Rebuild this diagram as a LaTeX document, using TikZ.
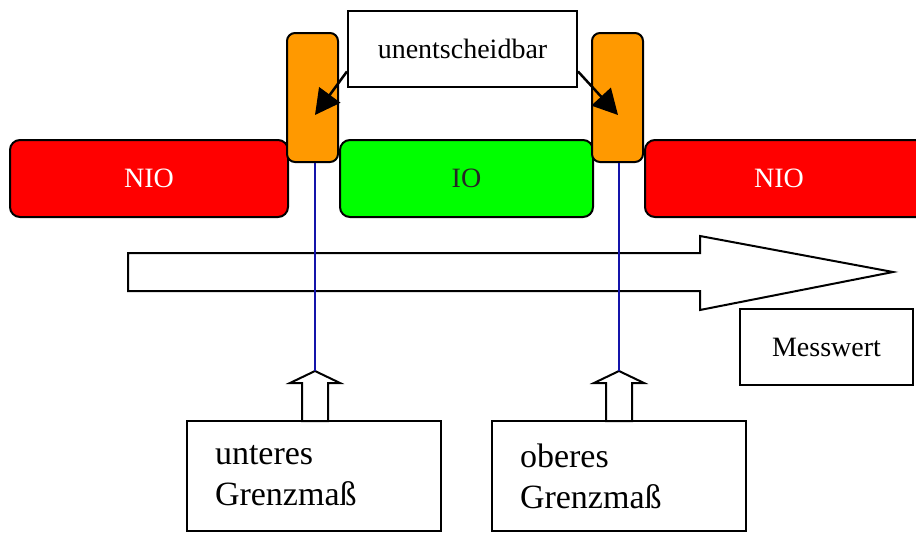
\documentclass[tikz,border=0pt]{standalone}
\usepackage{fontspec}
\setmainfont{Liberation Serif}
\usetikzlibrary{arrows.meta}
\definecolor{nred}{RGB}{255,0,0}
\definecolor{ngreen}{RGB}{0,255,0}
\definecolor{norange}{RGB}{255,153,0}
\definecolor{nblue}{RGB}{20,20,170}
\begin{document}
\begin{tikzpicture}[x=1pt,y=-1pt,
  bar/.style={draw=black,line width=2pt,rounded corners=10pt,minimum height=77pt,inner sep=0pt,font=\fontsize{28}{30}\selectfont},
  tol/.style={draw=black,line width=2pt,fill=norange,rounded corners=8pt,minimum width=51pt,minimum height=129pt,inner sep=0pt},
  plainbox/.style={draw=black,line width=2pt,fill=white,inner sep=0pt,font=\fontsize{28}{30}\selectfont},
  limbox/.style={draw=black,line width=2pt,fill=white,minimum width=254pt,minimum height=110pt,text width=198pt,inner xsep=28pt,inner ysep=0pt,align=left,font=\fontsize{34}{41}\selectfont},
  hollow/.style={draw=black,line width=2pt,fill=white,line join=miter},
  blueline/.style={draw=nblue,line width=1.5pt},
  pointer/.style={draw=black,line width=2.5pt,-{Triangle[length=25pt,width=26pt]}}]
\useasboundingbox (0,0) rectangle (916,533);
% bars
\node[bar,fill=nred,text=white,minimum width=278pt] (niol) at (149,178.5) {NIO};
\node[bar,fill=ngreen,text=black!85,minimum width=253pt] (io) at (466.5,178.5) {IO};
\node[bar,fill=nred,text=white,minimum width=284pt] (nior) at (787,178.5) {\hspace*{-16pt}NIO};
% tolerance zones
\node[tol] (ol) at (312.5,97.5) {};
\node[tol] (or) at (617.5,97.5) {};
% big arrow
\draw[hollow] (128,253) -- (700,253) -- (700,236) -- (893,272) -- (700,310) -- (700,291) -- (128,291) -- cycle;
% limit boxes and hollow arrows
\node[limbox] (ul) at (314,476) {unteres\\Grenzmaß};
\node[limbox] (ob) at (619,476) {oberes\\Grenzmaß};
\coordinate (tipl) at (315,371);
\coordinate (tipr) at (619,371);
\draw[hollow] (tipl) -- ++(25,12) -- ++(-12,0) -- ++(0,38) -- ++(-26,0) -- ++(0,-38) -- ++(-12,0) -- cycle;
\draw[hollow] (tipr) -- ++(25,12) -- ++(-12,0) -- ++(0,38) -- ++(-26,0) -- ++(0,-38) -- ++(-12,0) -- cycle;
% blue lines
\draw[blueline] (ol.south -| tipl) -- (tipl);
\draw[blueline] (or.south -| tipr) -- (tipr);
% labels
\node[plainbox,minimum width=229pt,minimum height=76pt] (un) at (462.5,49) {unentscheidbar};
\node[plainbox,minimum width=173pt,minimum height=76pt] (mw) at (826.5,347) {Messwert};
\coordinate (pl) at (315,115);
\coordinate (pr) at (618,115);
\draw[pointer] (un.191) -- (pl);
\draw[pointer] (un.-11) -- (pr);
\end{tikzpicture}
\end{document}
